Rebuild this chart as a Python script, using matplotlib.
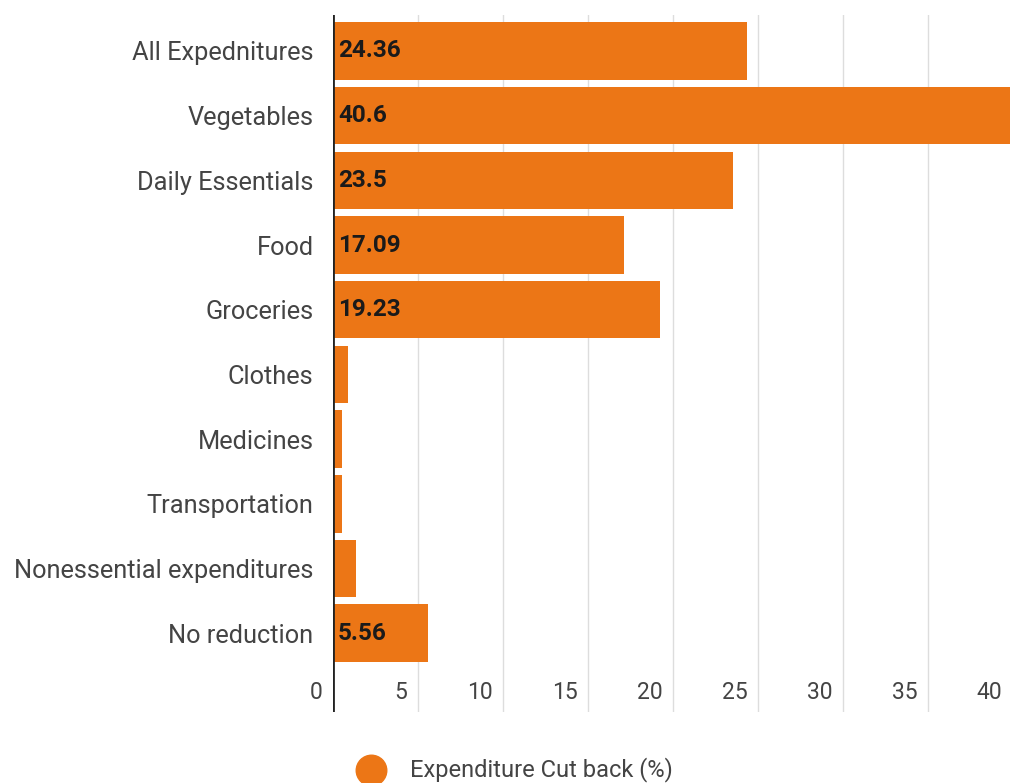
import matplotlib.pyplot as plt
from matplotlib.lines import Line2D

plt.rcParams["font.family"] = ["Roboto", "DejaVu Sans"]

# Share of respondents cutting back on each expenditure
categories = [
    "All Expednitures",
    "Vegetables",
    "Daily Essentials",
    "Food",
    "Groceries",
    "Clothes",
    "Medicines",
    "Transportation",
    "Nonessential expenditures",
    "No reduction",
]
cut_back = [24.36, 40.6, 23.5, 17.09, 19.23, 0.86, 0.51, 0.51, 1.35, 5.56]
shown_labels = ["24.36", "40.6", "23.5", "17.09", "19.23", "", "", "", "", "5.56"]
x_ticks = [0, 5, 10, 15, 20, 25, 30, 35, 40]
series_name = "Expenditure Cut back (%)"

bar_color = "#ec7616"
text_color = "#444444"

W, H = 1010, 783
fig = plt.figure(figsize=(W / 100, H / 100), dpi=100)
# plot area runs a little past the right edge of the image
ax = fig.add_axes([333 / W, 1 - 712 / H, 680 / W, 697 / H])

ypos = list(range(len(categories)))
ax.barh(ypos, cut_back, height=0.89, color=bar_color, zorder=2)

ax.set_xlim(0, 40)
ax.set_ylim(10.22, -0.556)

# vertical gridlines
for t in x_ticks[1:]:
    ax.axvline(t, color="#dddddd", lw=1, zorder=1)
ax.axvline(0, color="#222222", lw=2, zorder=3)

# x tick labels sit inside the plot area, right-aligned to each gridline
for t in x_ticks:
    ax.text(t - 0.62, 9.92, str(t), ha="right", va="center",
            fontsize=16.5, color=text_color)

# value labels at the start of each bar
for y, lab in zip(ypos, shown_labels):
    if lab:
        ax.text(0.3, y, lab, ha="left", va="center", fontsize=17.5,
                fontweight="semibold", color="#1a1a1a", zorder=4)

ax.set_yticks(ypos)
ax.set_yticklabels(categories, fontsize=18.3, color=text_color)
ax.tick_params(axis="y", length=0, pad=14)
ax.set_xticks([])
for s in ax.spines.values():
    s.set_visible(False)

# legend: orange dot plus series name under the chart
fig.add_artist(Line2D([371 / W], [1 - 770 / H], marker="o", ms=22, lw=0,
                      color=bar_color, transform=fig.transFigure))
fig.text(410 / W, 1 - 770 / H, series_name, ha="left", va="center",
         fontsize=17, color=text_color)

fig.savefig("out.png", dpi=100)
